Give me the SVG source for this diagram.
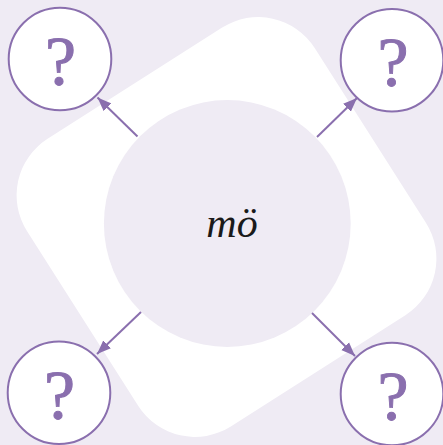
<svg xmlns="http://www.w3.org/2000/svg" width="443" height="445" viewBox="0 0 443 445">
  <style>
    .leaf { fill: #ffffff; stroke: #8a6fae; stroke-width: 2; }
    .q { font-family: "Liberation Serif", "DejaVu Serif", serif; font-size: 70px; fill: #8a6fae; stroke: #8a6fae; stroke-width: 0.9; text-anchor: middle; }
    .conn { stroke: #8a6fae; stroke-width: 2; fill: none; marker-end: url(#arrow); }
  </style>
  <defs>
    <marker id="arrow" markerUnits="userSpaceOnUse" markerWidth="16" markerHeight="12" viewBox="-14 -6 16 12" refX="0" refY="0" orient="auto">
      <path d="M0,0 L-14,-5.5 L-14,5.5 Z" fill="#8a6fae"/>
    </marker>
  </defs>
  <rect x="0" y="0" width="443" height="445" fill="#efebf4"/>
  <rect x="-170.5" y="-170.5" width="341" height="341" rx="67" fill="#ffffff" transform="translate(226.5,227) rotate(-32.5)"/>
  <g id="center">
    <circle cx="227.3" cy="223.5" r="123.4" fill="#efebf4"/>
    <text x="232" y="237" font-family="'Liberation Serif', 'DejaVu Serif', serif" font-style="italic" font-size="42" fill="#1a1a1a" text-anchor="middle">mö</text>
  </g>
  <g id="connectors">
    <line class="conn" x1="137.5" y1="136.5" x2="97.5" y2="97.5"/>
    <line class="conn" x1="317" y1="137" x2="357" y2="98"/>
    <line class="conn" x1="141" y1="312" x2="97" y2="354"/>
    <line class="conn" x1="312" y1="313" x2="355" y2="356"/>
  </g>
  <g id="node-tl">
    <circle class="leaf" cx="60" cy="59" r="51.3"/>
    <text class="q" x="60.5" y="85">?</text>
  </g>
  <g id="node-tr">
    <circle class="leaf" cx="392" cy="60.3" r="51.3"/>
    <text class="q" x="393" y="86">?</text>
  </g>
  <g id="node-bl">
    <circle class="leaf" cx="59" cy="392.7" r="51.3"/>
    <text class="q" x="59.5" y="419">?</text>
  </g>
  <g id="node-br">
    <circle class="leaf" cx="392" cy="394" r="51.3"/>
    <text class="q" x="393" y="420">?</text>
  </g>
</svg>
